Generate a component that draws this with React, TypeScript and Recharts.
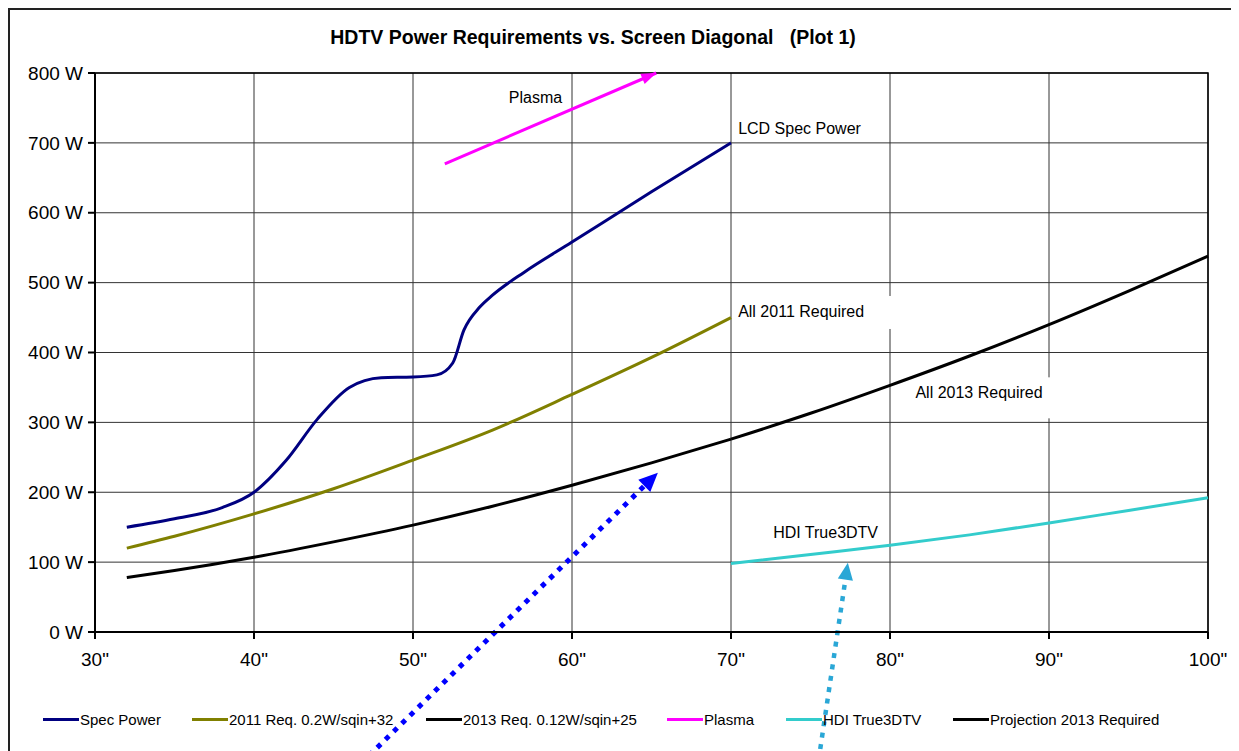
import React from "react";
import {
  CartesianGrid,
  Legend,
  Line,
  LineChart,
  ReferenceArea,
  ReferenceDot,
  ReferenceLine,
  XAxis,
  YAxis,
} from "recharts";

const FONT = "Arial, 'Liberation Sans', sans-serif";

// axis ticks
const xTicks = [30, 40, 50, 60, 70, 80, 90, 100];
const yTicks = [0, 100, 200, 300, 400, 500, 600, 700, 800];

// diagonal (inches) / watts
const specPowerIn = [32, 35, 38, 40, 42, 44, 46, 48, 50, 51.5, 52.5, 53.2, 54.2, 55, 57, 60, 65, 70];
const specPowerW = [150, 162, 178, 200, 245, 305, 350, 364, 365, 368, 385, 432, 465, 482, 515, 558, 630, 700];

const req2011In = [32, 35, 40, 45, 50, 55, 60, 65, 70];
const req2011W = [120, 137, 169, 205, 246, 289, 340, 393, 450];

const req2013In = [32, 35, 40, 45, 50, 55, 60, 65, 70];
const req2013W = [78, 88, 107, 129, 153, 180, 210, 242, 276];

const plasmaIn = [52, 65.3];
const plasmaW = [670, 800];

const hdiIn = [70, 75, 80, 85, 90, 95, 100];
const hdiW = [98, 111, 124, 139, 156, 174, 192];

const projIn = [70, 75, 80, 85, 90, 95, 100];
const projW = [276, 313, 353, 395, 440, 488, 538];

const toPoints = (xs: number[], ys: number[]) => xs.map((x, i) => ({ x, w: ys[i] }));

const series = [
  { name: "Spec Power", data: toPoints(specPowerIn, specPowerW), color: "#000080" },
  { name: "2011 Req. 0.2W/sqin+32", data: toPoints(req2011In, req2011W), color: "#808000" },
  { name: "2013 Req. 0.12W/sqin+25", data: toPoints(req2013In, req2013W), color: "#000000" },
  { name: "Plasma", data: toPoints(plasmaIn, plasmaW), color: "#FF00FF" },
  { name: "HDI True3DTV", data: toPoints(hdiIn, hdiW), color: "#33CCCC" },
  { name: "Projection 2013 Required", data: toPoints(projIn, projW), color: "#000000" },
];

// legend item left edges (px)
const legendLeft = [33, 182, 416, 657, 776, 943];

// text notes placed in data coords
const notes = [
  { x: 57.7, w: 765, text: "Plasma", anchor: "middle" },
  { x: 70.45, w: 720, text: "LCD Spec Power", anchor: "start" },
  { x: 70.45, w: 458, text: "All 2011 Required", anchor: "start" },
  { x: 81.6, w: 343, text: "All 2013 Required", anchor: "start" },
  { x: 72.65, w: 143, text: "HDI True3DTV", anchor: "start" },
];
// white backing boxes behind some notes: [dx, dy, width, height] relative to note anchor
const noteBoxes: Record<string, number[]> = {
  "All 2011 Required": [-6, -16, 160, 33],
  "All 2013 Required": [36, -15, 106, 41],
};

// dotted pointer arrows: from -> to in data coords
const arrows = [
  { from: { x: 46.2, w: -200 }, to: { x: 65.4, w: 228 }, color: "#0000FF", width: 5, head: 19 },
  { from: { x: 75.4, w: -200 }, to: { x: 77.35, w: 99 }, color: "#2AA7D6", width: 4.5, head: 17 },
];

const noteShape = (n: (typeof notes)[number]) => (p: any) => {
  const { cx, cy } = p;
  const b = noteBoxes[n.text];
  return (
    <g>
      {b && <rect x={cx + b[0]} y={cy + b[1]} width={b[2]} height={b[3]} fill="#fff" />}
      <text
        x={cx}
        y={cy}
        textAnchor={n.anchor}
        dominantBaseline="central"
        fontFamily={FONT}
        fontSize={16}
        fill="#000"
      >
        {n.text}
      </text>
    </g>
  );
};

const head = (x1: number, y1: number, x2: number, y2: number, len: number, half: number) => {
  const ang = Math.atan2(y2 - y1, x2 - x1);
  const bx = x2 - len * Math.cos(ang);
  const by = y2 - len * Math.sin(ang);
  const nx = -Math.sin(ang) * half;
  const ny = Math.cos(ang) * half;
  return { bx, by, pts: `${x2},${y2} ${bx + nx},${by + ny} ${bx - nx},${by - ny}` };
};

const arrowShape = (a: (typeof arrows)[number]) => (p: any) => {
  const { x1, y1, x2, y2 } = p;
  const h = head(x1, y1, x2, y2, a.head, a.head * 0.45);
  return (
    <g>
      <line x1={x1} y1={y1} x2={h.bx} y2={h.by} stroke={a.color} strokeWidth={a.width} strokeDasharray="5 6.5" />
      <polygon points={h.pts} fill={a.color} />
    </g>
  );
};

const plasmaHeadShape = (p: any) => {
  const { x1, y1, x2, y2 } = p;
  const h = head(x1, y1, x2, y2, 15, 5.5);
  return <polygon points={h.pts} fill="#FF00FF" />;
};

function LegendRow() {
  return (
    <div style={{ position: "relative", height: 20, width: 1229, fontFamily: FONT, fontSize: 15 }}>
      {series.map((s, i) => (
        <div
          key={s.name}
          style={{ position: "absolute", left: legendLeft[i], top: 0, height: 20, display: "flex", alignItems: "center", whiteSpace: "nowrap" }}
        >
          <span style={{ display: "inline-block", width: 36, height: 3, background: s.color, marginRight: 1 }} />
          <span style={{ color: "#000" }}>{s.name}</span>
        </div>
      ))}
    </div>
  );
}

export default function App() {
  return (
    <div
      style={{
        position: "relative",
        width: 1231,
        height: 743,
        borderTop: "2px solid #222",
        borderLeft: "2px solid #222",
        boxSizing: "border-box",
        overflow: "hidden",
        background: "#fff",
      }}
    >
      <div
        style={{
          position: "absolute",
          top: 17,
          left: 0,
          width: 1166,
          textAlign: "center",
          fontFamily: FONT,
          fontWeight: "bold",
          fontSize: 19.5,
          lineHeight: "20px",
          whiteSpace: "pre",
          zIndex: 2,
        }}
      >
        {"HDTV Power Requirements vs. Screen Diagonal   (Plot 1)"}
      </div>
      <LineChart width={1229} height={741} margin={{ top: 63, right: 31, left: 0, bottom: 69 }}>
        <CartesianGrid stroke="#333" strokeWidth={1} />
        <XAxis
          type="number"
          dataKey="x"
          domain={[30, 100]}
          ticks={xTicks}
          tickFormatter={(v) => `${v}"`}
          height={30}
          tickSize={7}
          tickMargin={14}
          stroke="#000"
          strokeWidth={2}
          tick={{ fill: "#000", fontSize: 19, fontFamily: FONT }}
          allowDuplicatedCategory={false}
        />
        <YAxis
          type="number"
          domain={[0, 800]}
          ticks={yTicks}
          tickFormatter={(v) => `${v} W`}
          width={85}
          tickSize={7}
          tickMargin={5}
          stroke="#000"
          strokeWidth={2}
          tick={{ fill: "#000", fontSize: 19, fontFamily: FONT }}
        />
        <ReferenceArea x1={30} x2={100} y1={0} y2={800} fill="none" stroke="#000" strokeWidth={1.5} ifOverflow="visible" />
        {notes.map((n) => (
          <ReferenceDot key={n.text} x={n.x} y={n.w} r={0} ifOverflow="visible" shape={noteShape(n)} />
        ))}
        {series.map((s) => (
          <Line
            key={s.name}
            name={s.name}
            data={s.data}
            dataKey="w"
            type="monotone"
            stroke={s.color}
            strokeWidth={3}
            dot={false}
            activeDot={false}
            isAnimationActive={false}
          />
        ))}
        <ReferenceLine
          segment={[
            { x: plasmaIn[0], y: plasmaW[0] },
            { x: plasmaIn[plasmaIn.length - 1], y: plasmaW[plasmaW.length - 1] },
          ]}
          ifOverflow="visible"
          shape={plasmaHeadShape}
        />
        {arrows.map((a, i) => (
          <ReferenceLine
            key={`arrow${i}`}
            segment={[
              { x: a.from.x, y: a.from.w },
              { x: a.to.x, y: a.to.w },
            ]}
            ifOverflow="visible"
            shape={arrowShape(a)}
          />
        ))}
        <Legend
          content={() => <LegendRow />}
          wrapperStyle={{ top: 699, left: 0, bottom: "auto", width: 1229 }}
        />
      </LineChart>
    </div>
  );
}
